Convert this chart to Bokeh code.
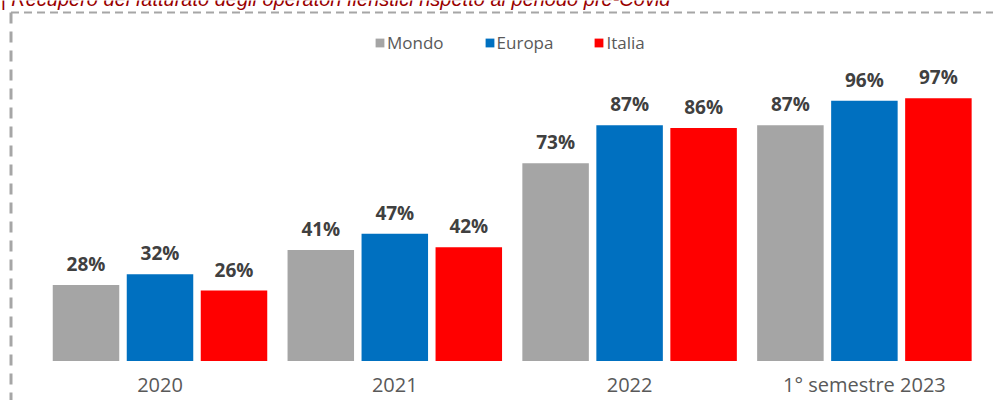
from bokeh.plotting import figure
from bokeh.models import ColumnDataSource, Range1d, Legend, LegendItem, Label
from bokeh.core.properties import value
from bokeh.embed import file_html
from bokeh.resources import INLINE

# ---- data -------------------------------------------------------------
categories = ["2020", "2021", "2022", "1° semestre 2023"]
series = ["Mondo", "Europa", "Italia"]
mondo = [28, 41, 73, 87]
europa = [32, 47, 87, 96]
italia = [26, 42, 86, 97]
title_text = "| Recupero del fatturato degli operatori fieristici rispetto al periodo pre-Covid"

# ---- style / layout constants -----------------------------------------
colors = ["#A5A5A5", "#0070C0", "#FF0000"]
FIG_W, FIG_H = 993, 400
BASE_PY = 360.5          # pixel y of the 0 % baseline
PX_PER_PCT = 2.71
GROUP_PX = 234.8         # distance between group centres
FIRST_GROUP_PX = 159.5   # pixel x of first group centre
BAR_STEP_PX = 74
BAR_W_PX = 66.5


def yd(py):
    return (BASE_PY - py) / PX_PER_PCT


X0 = 0.5 - FIRST_GROUP_PX / GROUP_PX


def xd(px):
    return X0 + px / GROUP_PX


p = figure(width=FIG_W, height=FIG_H,
           x_range=Range1d(X0, xd(FIG_W)),
           y_range=Range1d(yd(FIG_H), yd(0)),
           x_axis_location=None, y_axis_location=None,
           toolbar_location=None, output_backend="svg",
           min_border=0, outline_line_color=None,
           background_fill_color="white", border_fill_color="white")
p.grid.grid_line_color = None

# ---- bars + value labels ----------------------------------------------
pos = [i + 0.5 for i in range(len(categories))]
items = []
for vals, name, col, k in zip([mondo, europa, italia], series, colors, [-1, 0, 1]):
    src = ColumnDataSource(dict(
        x=[q + k * BAR_STEP_PX / GROUP_PX for q in pos],
        top=vals,
        label=[f"{v}%" for v in vals],
    ))
    r = p.vbar(x="x", top="top", bottom=0, width=BAR_W_PX / GROUP_PX, source=src,
               fill_color=col, line_color=None)
    p.text(x="x", y="top", text="label", source=src, text_align="center",
           text_baseline="alphabetic", y_offset=-21,
           text_font=value("Open Sans"), text_font_style="bold",
           text_font_size="19px", text_color="#404040")
    items.append(LegendItem(label=name, renderers=[r]))

# ---- category labels ---------------------------------------------------
p.text(x=pos, y=[yd(384)] * len(pos), text=categories, text_align="center",
       text_baseline="alphabetic", text_font=value("Open Sans"),
       text_font_size="20px", text_color="#595959")

# ---- dashed frame -------------------------------------------------------
p.segment(x0=[xd(10.5)], y0=[yd(12)], x1=[xd(FIG_W)], y1=[yd(12)],
          line_color="#A6A6A6", line_width=2, line_dash="8 5")
p.segment(x0=[xd(10.5)], y0=[yd(12)], x1=[xd(10.5)], y1=[yd(FIG_H)],
          line_color="#A6A6A6", line_width=3, line_dash="11 8")

# ---- title (cut at the top as in the source) ---------------------------
p.add_layout(Label(x=xd(0), y=yd(-2), text=title_text,
                   text_font="Liberation Sans", text_font_style="italic",
                   text_font_size="20px", text_color="#990000",
                   text_baseline="alphabetic"))

# ---- legend -------------------------------------------------------------
legend = Legend(items=items, orientation="horizontal", location=(374, 346),
                padding=0, margin=0, spacing=40, glyph_width=11, glyph_height=11,
                label_standoff=2, label_height=24,
                label_text_font="Open Sans", label_text_font_size="17px",
                label_text_color="#595959", border_line_color=None,
                background_fill_alpha=0)
p.add_layout(legend)

open("out.html", "w").write(file_html(p, INLINE, "chart"))
